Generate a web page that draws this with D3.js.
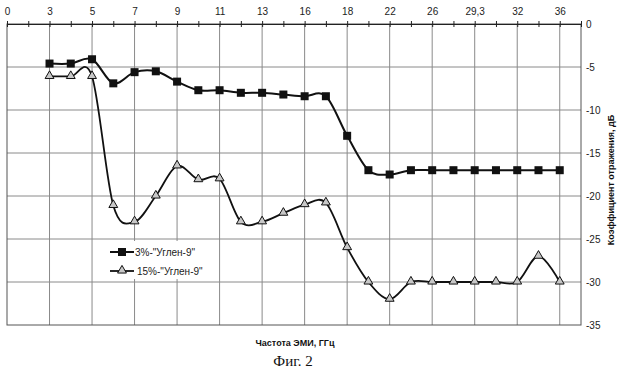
<!DOCTYPE html>
<html>
<head>
<meta charset="utf-8">
<script src="https://cdn.jsdelivr.net/npm/d3@7"></script>
<style>
body { margin: 0; background: #fff; }
text { font-family: "Liberation Sans", Arial, sans-serif; }
</style>
</head>
<body>
<div id="chart"></div>
<script>
// categories on the top axis (only every second one gets a label)
var categories = ['0', '1', '3', '4', '5', '6', '7', '8', '9', '10', '11', '12', '13', '14',
                  '16', '17', '18', '20', '22', '24', '26', '28', '29,3', '30', '32', '34', '36', '38']
var yTicks = [0, -5, -10, -15, -20, -25, -30, -35]

// 3%-"Углен-9", from category index 2 to 26
var series3 = [-4.6, -4.6, -4.1, -6.9, -5.6, -5.5, -6.7, -7.7, -7.7, -8.0, -8.0, -8.2, -8.4,
               -8.4, -13.0, -17.0, -17.5, -17.0, -17.0, -17.0, -17.0, -17.0, -17.0, -17.0, -17.0]
// 15%-"Углен-9"
var series15 = [-6.1, -6.1, -6.1, -21.1, -23.0, -20.0, -16.5, -18.1, -18.0, -23.0, -23.0, -22.0, -21.0,
                -20.8, -26.0, -30.0, -32.0, -30.0, -30.0, -30.0, -30.0, -30.0, -30.0, -27.0, -30.0]
var firstIndex = 2

var svg = d3.select('#chart')
    .append('svg')
    .attr('width', 620)
    .attr('height', 370)

var x = d3.scalePoint()
    .domain(categories)
    .range([7, 581])
var y = d3.scaleLinear()
    .domain([-35, 0])
    .range([325, 24])

var labelled = categories.filter(function(d, i){ return i % 2 == 0 })

// grid
svg.append('g')
    .selectAll('line')
    .data(labelled.slice(1))
    .enter()
    .append('line')
    .attr('x1', function(d){ return x(d) })
    .attr('x2', function(d){ return x(d) })
    .attr('y1', y(0))
    .attr('y2', y(-35))
    .attr('stroke', '#8a8a8a')
    .attr('stroke-width', 1)
svg.append('g')
    .selectAll('line')
    .data(yTicks.slice(1, -1))
    .enter()
    .append('line')
    .attr('x1', 7)
    .attr('x2', 581)
    .attr('y1', function(d){ return y(d) })
    .attr('y2', function(d){ return y(d) })
    .attr('stroke', '#8a8a8a')
    .attr('stroke-width', 1)

// frame
svg.append('rect')
    .attr('x', 7)
    .attr('y', y(0))
    .attr('width', 574)
    .attr('height', y(-35) - y(0))
    .attr('fill', 'none')
    .attr('stroke', '#555')
    .attr('stroke-width', 1)

// top axis
var topAxis = d3.axisTop(x)
    .tickSizeInner(3)
    .tickSizeOuter(0)
    .tickFormat(function(d, i){ return i % 2 == 0 ? d : '' })
var gTop = svg.append('g')
    .attr('transform', 'translate(0,' + y(0) + ')')
    .call(topAxis)
gTop.selectAll('.tick line').attr('y2', 6).attr('transform', 'translate(0,-3)').attr('stroke', '#222')
gTop.select('.domain').attr('stroke', '#222')
gTop.selectAll('text')
    .attr('y', -9)
    .style('font-size', '10px')
    .style('font-family', '"Liberation Sans", Arial, sans-serif')
    .attr('fill', '#222')

// right axis
var rightAxis = d3.axisRight(y)
    .tickValues(yTicks)
    .tickSize(0)
    .tickFormat(d3.format('d'))
var gRight = svg.append('g')
    .attr('transform', 'translate(581,0)')
    .call(rightAxis)
gRight.select('.domain').remove()
gRight.selectAll('text')
    .attr('x', 5)
    .style('font-size', '10px')
    .style('font-family', '"Liberation Sans", Arial, sans-serif')
    .attr('fill', '#222')
    .text(function(d){ return d == 0 ? '0' : '-' + Math.abs(d) })

// lines
var line = d3.line()
    .x(function(d, i){ return x(categories[i + firstIndex]) })
    .y(function(d){ return y(d) })
    .curve(d3.curveCardinal.tension(0))

svg.append('path')
    .datum(series15)
    .attr('d', line)
    .attr('fill', 'none')
    .attr('stroke', '#111')
    .attr('stroke-width', 1.8)
svg.append('path')
    .datum(series3)
    .attr('d', line)
    .attr('fill', 'none')
    .attr('stroke', '#111')
    .attr('stroke-width', 2)

var tri = d3.symbol().type(d3.symbolTriangle).size(34)

svg.append('g')
    .selectAll('path')
    .data(series15)
    .enter()
    .append('path')
    .attr('d', tri)
    .attr('transform', function(d, i){ return 'translate(' + x(categories[i + firstIndex]) + ',' + (y(d) - 0.5) + ')' })
    .attr('fill', '#c8c8c8')
    .attr('stroke', '#111')
    .attr('stroke-width', 1)

svg.append('g')
    .selectAll('rect')
    .data(series3)
    .enter()
    .append('rect')
    .attr('x', function(d, i){ return x(categories[i + firstIndex]) - 4 })
    .attr('y', function(d){ return y(d) - 4 })
    .attr('width', 8)
    .attr('height', 8)
    .attr('fill', '#111')

// legend
var legend = svg.append('g')
legend.append('rect')
    .attr('x', 93)
    .attr('y', 241)
    .attr('width', 118)
    .attr('height', 38)
    .attr('fill', '#fff')
legend.append('line')
    .attr('x1', 110).attr('x2', 134).attr('y1', 252).attr('y2', 252)
    .attr('stroke', '#111').attr('stroke-width', 2)
legend.append('rect')
    .attr('x', 118).attr('y', 248).attr('width', 8).attr('height', 8)
    .attr('fill', '#111')
legend.append('text')
    .attr('x', 135).attr('y', 256)
    .style('font-size', '10px')
    .attr('fill', '#222')
    .text('3%-"Углен-9"')
legend.append('line')
    .attr('x1', 110).attr('x2', 134).attr('y1', 271).attr('y2', 271)
    .attr('stroke', '#111').attr('stroke-width', 1.8)
legend.append('path')
    .attr('d', tri)
    .attr('transform', 'translate(122,270.5)')
    .attr('fill', '#c8c8c8')
    .attr('stroke', '#111')
legend.append('text')
    .attr('x', 137).attr('y', 275)
    .style('font-size', '10px')
    .attr('fill', '#222')
    .text('15%-"Углен-9"')

// titles
svg.append('text')
    .attr('x', 295)
    .attr('y', 346)
    .attr('text-anchor', 'middle')
    .style('font-size', '9px')
    .style('font-weight', 'bold')
    .attr('fill', '#111')
    .text('Частота ЭМИ, ГГц')
svg.append('text')
    .attr('transform', 'translate(614,180) rotate(-90)')
    .attr('text-anchor', 'middle')
    .style('font-size', '9px')
    .style('font-weight', 'bold')
    .attr('fill', '#111')
    .text('Коэффициент отражения, дБ')
svg.append('text')
    .attr('x', 293)
    .attr('y', 366)
    .attr('text-anchor', 'middle')
    .style('font-family', '"Liberation Serif", "Times New Roman", serif')
    .style('font-size', '15px')
    .attr('fill', '#111')
    .text('Фиг. 2')
</script>
</body>
</html>
